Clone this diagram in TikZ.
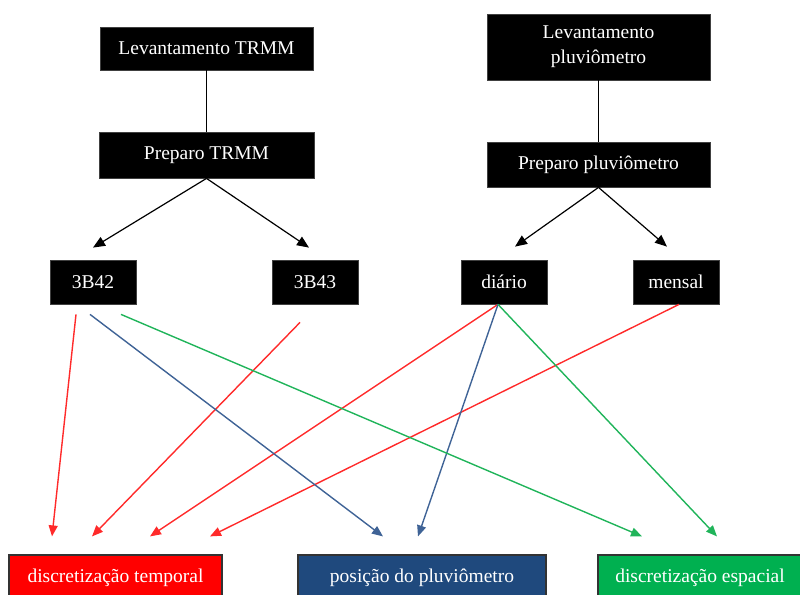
\documentclass[tikz,border=0pt]{standalone}
\usepackage{fontspec}
\setmainfont{Liberation Serif}
\usetikzlibrary{arrows.meta}
\usetikzlibrary{calc,positioning}

\definecolor{tempred}{HTML}{FF0000}
\definecolor{posblue}{HTML}{1F497D}
\definecolor{espgreen}{HTML}{00B050}
\definecolor{arrred}{HTML}{FF2A2A}
\definecolor{arrblue}{HTML}{3F6396}
\definecolor{arrgreen}{HTML}{20B45A}

\begin{document}
\begin{tikzpicture}[x=1pt,y=-1pt,
    box/.style={fill=black,draw=black!75,line width=0.8pt,text=white,inner sep=0pt,
        font=\fontsize{19.5}{25}\selectfont,align=center},
    fim/.style={draw=black!80,line width=1.2pt,text=white,inner sep=0pt,
        minimum height=45pt,font=\fontsize{19.5}{25}\selectfont},
    seta/.style={line width=1.2pt,-{Triangle[length=12pt,width=10pt]}},
    cseta/.style={line width=1.4pt,-{Triangle[length=11pt,width=9pt]}}]
    \clip (0,0) rectangle (800,594);

    \node[box,minimum width=213pt,minimum height=43pt] (levtrmm) at (206.5,48.5) {Levantamento TRMM};
    \node[box,minimum width=223pt,minimum height=66pt] (levpluv) at (598.5,47) {Levantamento\\pluviômetro};
    \node[box,minimum width=215pt,minimum height=46pt] (preptrmm) at (206.5,155) {Preparo TRMM};
    \node[box,minimum width=223pt,minimum height=45pt] (preppluv) at (598.5,164.5) {Preparo pluviômetro};

    \node[box,minimum width=86pt,minimum height=44pt] (b42) at (93,282) {3B42};
    \node[box,minimum width=86pt,minimum height=44pt] (b43) at (315,282) {3B43};
    \node[box,minimum width=86pt,minimum height=44pt] (diario) at (504,282) {diário};
    \node[box,minimum width=86pt,minimum height=44pt] (mensal) at (676,282) {mensal};

    \node[fim,fill=tempred,minimum width=213pt] (temporal) at (115.5,577.5) {discretização temporal};
    \node[fim,fill=posblue,minimum width=248pt] (posicao) at (422,577.5) {posição do pluviômetro};
    \node[fim,fill=espgreen,minimum width=204pt] (espacial) at (700,577.5) {discretização espacial};

    \draw[line width=1.2pt] (levtrmm) -- (preptrmm);
    \draw[line width=1.2pt] (levpluv) -- (preppluv);

    \draw[seta] (preptrmm.south) -- ([yshift=12pt]b42.north);
    \draw[seta] (preptrmm.south) -- ([xshift=-6pt,yshift=12pt]b43.north);
    \draw[seta] (preppluv.south) -- ([xshift=11pt,yshift=13pt]diario.north);
    \draw[seta] (preppluv.south) -- ([xshift=-9pt,yshift=13pt]mensal.north);

    % discretizacao temporal
    \draw[cseta,arrred] ([xshift=-17pt,yshift=-10pt]b42.south) -- ([xshift=-63.5pt,yshift=18pt]temporal.north);
    \draw[cseta,arrred] ([xshift=-15pt,yshift=-18pt]b43.south) -- ([xshift=-23.5pt,yshift=18pt]temporal.north);
    \draw[cseta,arrred] ([xshift=-6pt]diario.south) -- ([xshift=34.5pt,yshift=18pt]temporal.north);
    \draw[cseta,arrred] ([xshift=3pt]mensal.south) -- ([xshift=94.5pt,yshift=18pt]temporal.north);

    % posicao
    \draw[cseta,arrblue] ([xshift=-3pt,yshift=-10pt]b42.south) -- ([xshift=-39pt,yshift=18pt]posicao.north);
    \draw[cseta,arrblue] ([xshift=-6pt]diario.south) -- ([xshift=-4pt,yshift=18pt]posicao.north);

    % discretizacao espacial
    \draw[cseta,arrgreen] ([xshift=28pt,yshift=-10pt]b42.south) -- ([xshift=-58pt,yshift=18pt]espacial.north);
    \draw[cseta,arrgreen] ([xshift=-6pt]diario.south) -- ([xshift=17pt,yshift=18pt]espacial.north);
\end{tikzpicture}
\end{document}
